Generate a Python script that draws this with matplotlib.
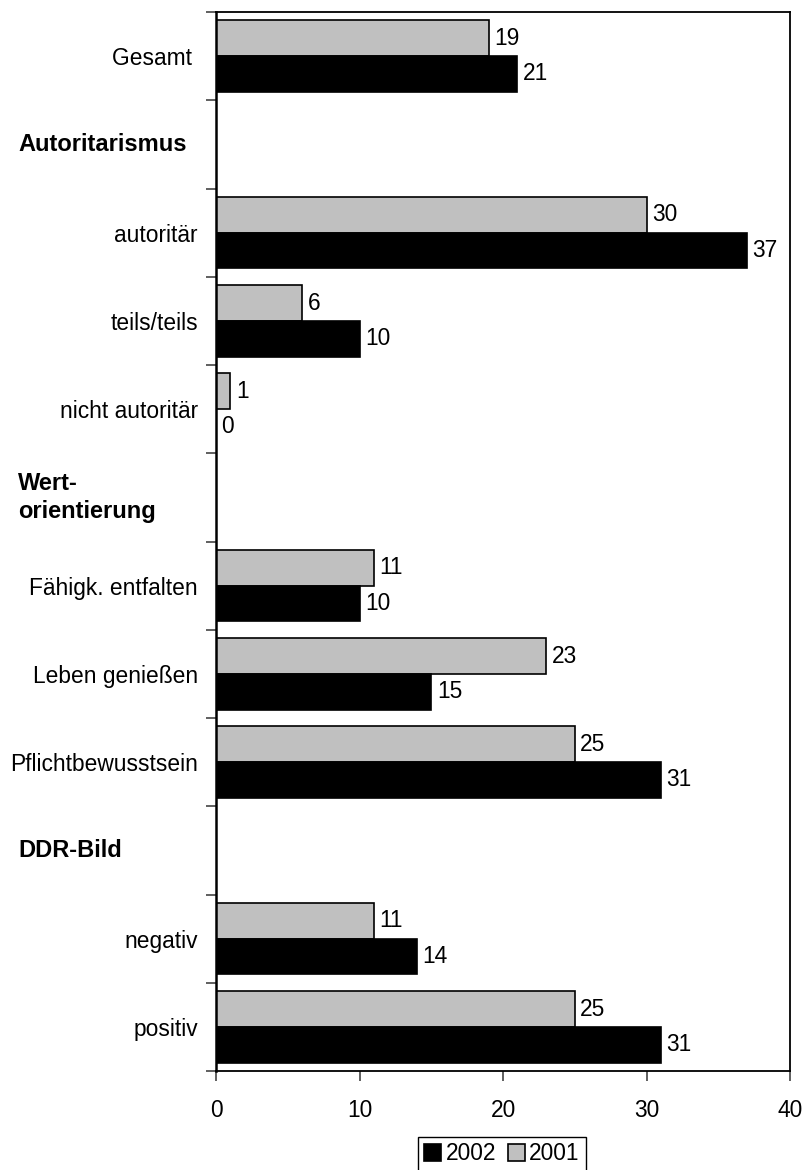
import matplotlib
matplotlib.use("Agg")
import matplotlib.pyplot as plt
import numpy as np
from matplotlib.transforms import blended_transform_factory

plt.rcParams['font.family'] = ['Liberation Sans', 'DejaVu Sans']

categories = ["Gesamt ", "", "autoritär", "teils/teils", "nicht autoritär", "",
              "Fähigk. entfalten", "Leben genießen", "Pflichtbewusstsein", "",
              "negativ", "positiv"]
headers = {1: "Autoritarismus", 5: "Wert-\norientierung", 9: "DDR-Bild"}
bar_rows = [0, 2, 3, 4, 6, 7, 8, 10, 11]
values_2001 = [19, 30, 6, 1, 11, 23, 25, 11, 25]
values_2002 = [21, 37, 10, 0, 10, 15, 31, 14, 31]
x_ticks = [0, 10, 20, 30, 40]

fs = 16.4
fig = plt.figure(figsize=(8.05, 11.7), dpi=100)
ax = fig.add_axes([216/805, 1 - 1071/1170, (790-216)/805, (1071-12)/1170])

h = 0.405
rows = np.array(bar_rows, dtype=float)
b01 = ax.barh(rows - h/2, values_2001, height=h, color='#C0C0C0', edgecolor='black', linewidth=1.2, label='2001')
b02 = ax.barh(rows + h/2, values_2002, height=h, color='black', edgecolor='black', linewidth=1.2, label='2002')
ax.bar_label(b01, padding=4, fontsize=fs)
ax.bar_label(b02, padding=4, fontsize=fs)

n = len(categories)
ax.set_ylim(n - 0.5, -0.5)
ax.set_xlim(0, 40)
ax.set_xticks(x_ticks)
ax.set_xticklabels([str(t) for t in x_ticks], fontsize=fs)
ax.tick_params(axis='x', direction='out', length=7, width=1.2, pad=13, color='#444444')

ax.set_yticks(np.arange(-0.5, n, 1.0))
ax.set_yticklabels([])
ax.set_yticks(np.arange(n), minor=True)
ax.set_yticklabels(categories, minor=True, fontsize=fs)
ax.tick_params(axis='y', which='major', direction='out', length=7, width=1.2, color='#444444')
ax.tick_params(axis='y', which='minor', length=0, pad=13)

for s in ['top', 'right', 'bottom']:
    ax.spines[s].set_linewidth(1.3)
ax.spines['left'].set_linewidth(1.8)

tr = blended_transform_factory(fig.transFigure, ax.transData)
for idx, txt in headers.items():
    ax.text(18/805, idx, txt, transform=tr, ha='left', va='center',
            fontsize=17, fontweight='bold', linespacing=1.25)

handles = [b02, b01]
leg = fig.legend(handles, ['2002', '2001'], loc='center', ncol=2,
                 bbox_to_anchor=(502/805, 1 - 1154/1170), fontsize=fs,
                 frameon=True, fancybox=False, edgecolor='black', framealpha=1,
                 handlelength=0.75, handleheight=0.75, handletextpad=0.2,
                 columnspacing=0.5, borderpad=0.25, borderaxespad=0)
leg.get_frame().set_linewidth(1.0)

fig.savefig("out.png", dpi=100)
